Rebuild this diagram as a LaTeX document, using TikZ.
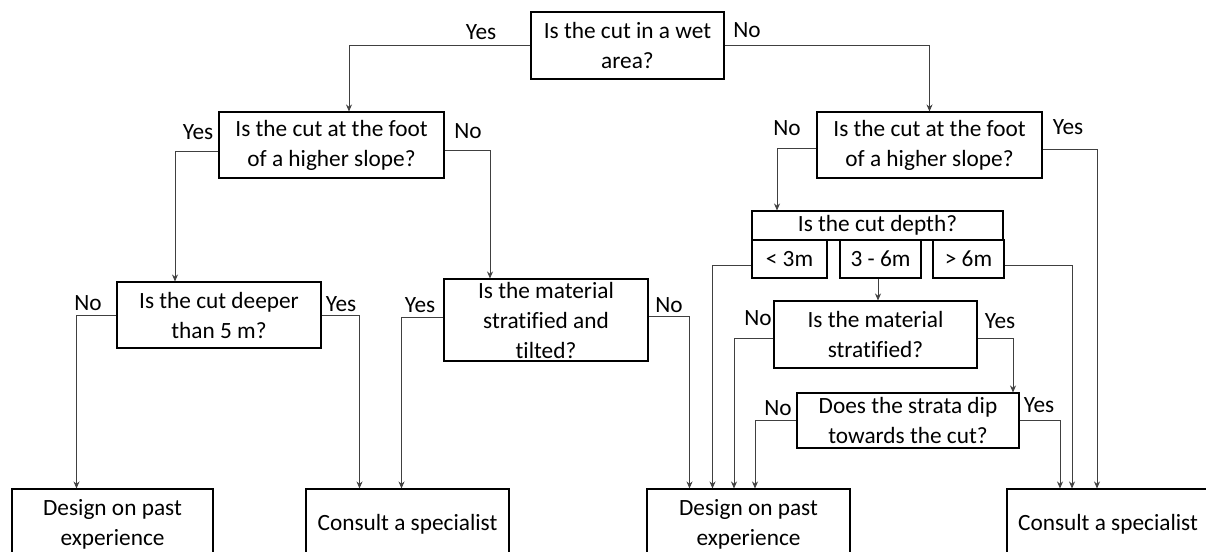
\documentclass[tikz,border=0pt]{standalone}
\usepackage{fontspec}
\setmainfont[RawFeature={-liga}]{Carlito}
\usetikzlibrary{arrows.meta}
\begin{document}
\begin{tikzpicture}[x=1pt,y=-1pt,
 box/.style={draw=black,line width=1.1pt,align=center,inner sep=0pt,font=\fontsize{23.3}{30}\selectfont},
 lbl/.style={inner sep=0pt,font=\fontsize{23.3}{30}\selectfont},
 arr/.style={draw=black!75,line width=0.8pt,-{Stealth[length=7pt,width=6pt]}}]
\useasboundingbox (0,0) rectangle (1206,551);
\clip (0,0) rectangle (1206,551);
% decision boxes
\node[box,minimum width=193pt,minimum height=67pt] (top) at (627.5,45.5) {Is the cut in a wet\\area?};
\node[box,minimum width=225pt,minimum height=66pt] (L2) at (331.5,145) {Is the cut at the foot\\of a higher slope?};
\node[box,minimum width=225pt,minimum height=66pt] (R2) at (929.5,145) {Is the cut at the foot\\of a higher slope?};
\node[box,minimum width=204pt,minimum height=66pt] (L3) at (219,315) {Is the cut deeper\\than 5 m?};
\node[box,minimum width=204pt,minimum height=82pt] (L4) at (546,320) {Is the material\\stratified and\\tilted?};
\node[box,minimum width=251pt,minimum height=29pt] (depth) at (877.5,225.5) {Is the cut depth?};
\node[box,minimum width=75pt,minimum height=38pt] (lt3) at (789.5,259) {< 3m};
\node[box,minimum width=81pt,minimum height=38pt] (mid) at (880.5,259) {3 - 6m};
\node[box,minimum width=71pt,minimum height=38pt] (gt6) at (968.5,259) {> 6m};
\node[box,minimum width=203pt,minimum height=67pt] (mat) at (875.5,334.5) {Is the material\\stratified?};
\node[box,minimum width=222pt,minimum height=55pt] (strata) at (908,420.5) {Does the strata dip\\towards the cut?};
% outcome boxes
\node[box,minimum width=201pt,minimum height=70pt] (B1) at (112.5,524) {Design on past\\experience};
\node[box,minimum width=203pt,minimum height=70pt] (B2) at (407.5,524) {Consult a specialist};
\node[box,minimum width=203pt,minimum height=70pt] (B3) at (748.5,524) {Design on past\\experience};
\node[box,minimum width=202pt,minimum height=70pt] (B4) at (1108,524) {Consult a specialist};
% connectors
\draw[arr] (top.west) -| ([xshift=17.5pt]L2.north);
\draw[arr] (top.east) -| (R2.north);
\draw[arr] ([yshift=-6pt]L2.west) -| ([xshift=-44pt]L3.north);
\draw[arr] ([yshift=-5pt]L2.east) -| ([xshift=-56pt]L4.north);
\draw[arr] ([yshift=-3pt]R2.west) -| ([xshift=-100.5pt]depth.north);
\draw[arr] ([yshift=-4pt]R2.east) -| ([xshift=-11pt]B4.north);
\draw[arr] (L3.west) -| ([xshift=-36pt]B1.north);
\draw[arr] (L3.east) -| ([xshift=-48pt]B2.north);
\draw[arr] ([yshift=3pt]L4.west) -| ([xshift=-6pt]B2.north);
\draw[arr] ([yshift=4pt]L4.east) -| ([xshift=-59pt]B3.north);
\draw[arr] ([yshift=-6pt]lt3.west) -| ([xshift=-36pt]B3.north);
\draw[arr] ([yshift=-6pt]gt6.east) -| ([xshift=-36pt]B4.north);
\draw[arr] ([xshift=-2.5pt]mid.south) -- ([xshift=-2.5pt]mid.south |- mat.north);
\draw[arr] ([yshift=-3.5pt]mat.west) -| ([xshift=-14.5pt]B3.north);
\draw[arr] ([yshift=-3.5pt]mat.east) -| ([xshift=105pt]strata.north);
\draw[arr] (strata.west) -| ([xshift=6.5pt]B3.north);
\draw[arr] (strata.east) -| ([xshift=-48pt]B4.north);
% labels
\node[lbl] (ty) at (481,32) {Yes};
\node[lbl] (tn) at (747,30) {No};
\node[lbl] (l2y) at (198,132) {Yes};
\node[lbl] (l2n) at (468,131) {No};
\node[lbl] (r2n) at (787,128) {No};
\node[lbl] (r2y) at (1068,127) {Yes};
\node[lbl] (l3n) at (88,303) {No};
\node[lbl] (l3y) at (341,304) {Yes};
\node[lbl] (l4y) at (420,305) {Yes};
\node[lbl] (l4n) at (669,305) {No};
\node[lbl] (mn) at (758,318) {No};
\node[lbl] (my) at (1000,321) {Yes};
\node[lbl] (sn) at (778,408) {No};
\node[lbl] (sy) at (1039,405) {Yes};
\end{tikzpicture}
\end{document}
